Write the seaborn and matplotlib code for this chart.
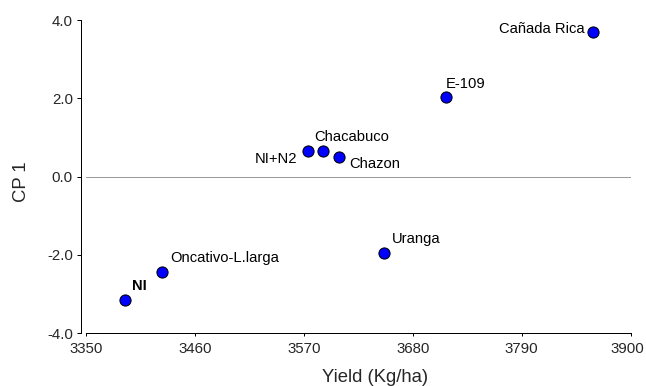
import matplotlib
matplotlib.use("Agg")
import matplotlib.pyplot as plt
import matplotlib.transforms as mtransforms
import seaborn as sns
import pandas as pd

# Data
names = ["NI", "Oncativo-L.larga", "NI+N2", "Chacabuco", "Chazon", "E-109", "Cañada Rica", "Uranga"]
yield_kg = [3389, 3427, 3574, 3589, 3605, 3713, 3862, 3651]
cp1 = [-3.14, -2.43, 0.66, 0.65, 0.51, 2.04, 3.69, -1.95]
x_ticks = [3350, 3460, 3570, 3680, 3790, 3900]
y_ticks = [-4.0, -2.0, 0.0, 2.0, 4.0]

sns.set_theme(style="white")
plt.rcParams['font.family'] = ['Liberation Sans', 'DejaVu Sans']

DPI = 72
fig = plt.figure(figsize=(646 / DPI, 386 / DPI), dpi=DPI)
ax = fig.add_axes([86 / 646, 1 - 333.3 / 386, (630.7 - 86) / 646, (333.3 - 20) / 386])

df = pd.DataFrame({"name": names, "yield": yield_kg, "cp1": cp1})

ax.axhline(0, color="#9a9a9a", lw=1.0, zorder=1)
sns.scatterplot(data=df, x="yield", y="cp1", ax=ax, color="#0000ff", edgecolor="black",
                linewidth=1.0, s=125, zorder=3, legend=False)

offsets = {
    "NI": (7, 14, "left"),
    "Oncativo-L.larga": (8, 14, "left"),
    "NI+N2": (-11, -8, "right"),
    "Chacabuco": (-8, 14, "left"),
    "Chazon": (11, -7, "left"),
    "E-109": (0, 13, "left"),
    "Cañada Rica": (-8, 3, "right"),
    "Uranga": (8, 14, "left"),
}
for n, xv, yv in zip(names, yield_kg, cp1):
    dx, dy, ha = offsets[n]
    ax.annotate(n, (xv, yv), xytext=(dx, dy), textcoords="offset points",
                ha=ha, va="center", fontsize=14.7, color="black",
                fontweight="bold" if n == "NI" else "normal")

ax.set_xlim(3350, 3900)
ax.set_ylim(-4, 4)
ax.set_xticks(x_ticks)
ax.set_xticklabels([str(t) for t in x_ticks])
ax.set_yticks(y_ticks)
ax.set_yticklabels([f"{t:.1f}" for t in y_ticks])

for s in ["top", "right"]:
    ax.spines[s].set_visible(False)
ax.spines["left"].set_position(("outward", 5))
for s in ["left", "bottom"]:
    ax.spines[s].set_color("black")
    ax.spines[s].set_linewidth(1.0)

ax.tick_params(axis="y", direction="out", length=4, width=1, color="black", pad=4, labelsize=15, left=True)
ax.tick_params(axis="x", direction="out", length=3, width=1, color="black", pad=6, labelsize=15, bottom=True)

# nudge the last x tick label so it stays inside the canvas
last = ax.get_xticklabels()[-1]
last.set_transform(last.get_transform() + mtransforms.ScaledTranslation(-3 / DPI, 0, fig.dpi_scale_trans))

ax.set_xlabel("Yield (Kg/ha)", fontsize=18.5)
ax.set_ylabel("CP 1", fontsize=18.5)
ax.xaxis.set_label_coords((375 - 86) / (630.7 - 86), -(377 - 333.3) / (333.3 - 20))
ax.yaxis.set_label_coords(-(86 - 21) / (630.7 - 86), (333.3 - 182) / (333.3 - 20))
ax.xaxis.label.set_va("center")
ax.yaxis.label.set_va("center")
ax.grid(False)

fig.savefig("out.png", dpi=DPI)
